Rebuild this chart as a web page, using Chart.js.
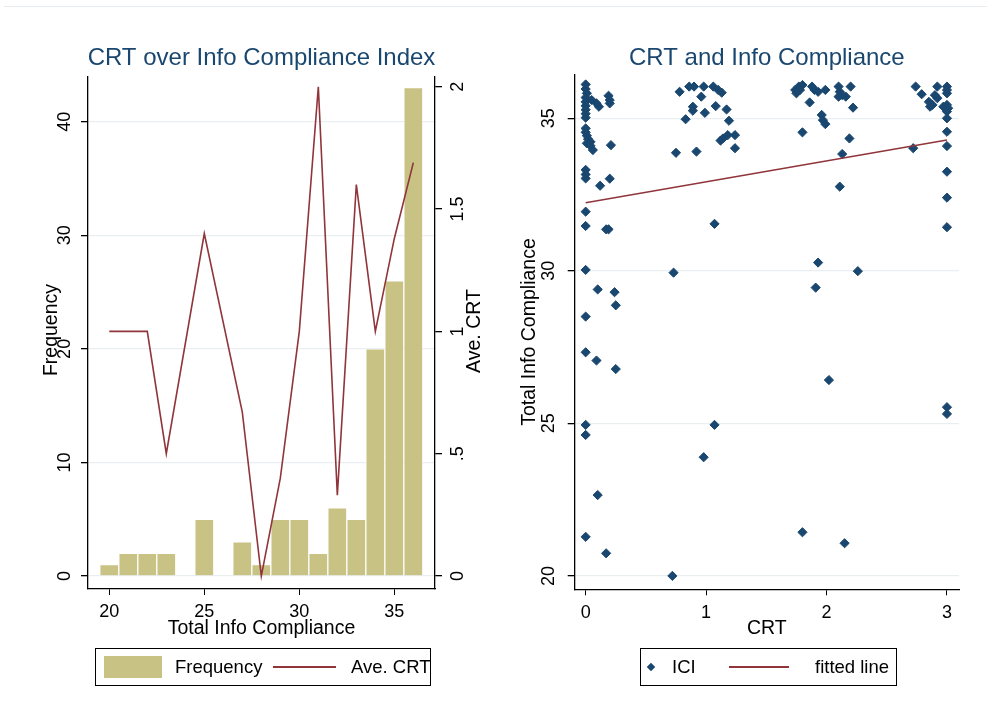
<!DOCTYPE html>
<html>
<head>
<meta charset="utf-8">
<script src="https://cdn.jsdelivr.net/npm/chart.js@4"></script>
<style>
body { margin: 0; background: #fff; font-family: "Liberation Sans", Arial, sans-serif; }
#wrap { position: relative; width: 987px; height: 722px; overflow: hidden; background: #fff; }
#topline { position: absolute; left: 4px; top: 6px; width: 983px; height: 1px; background: #e6ecef; }
canvas { position: absolute; top: 0; }
#leftChart { left: 0; }
#rightChart { left: 493px; }
.legend { position: absolute; top: 648px; height: 36px; border: 1px solid #000; font-size: 18.5px; color: #000; }
.legend .txt { position: absolute; top: 0; line-height: 36px; white-space: nowrap; }
.legend .swatch { position: absolute; top: 7px; width: 58px; height: 22px; background: #c9c285; }
.legend .ln { position: absolute; top: 17px; height: 2px; background: #90353b; }
.legend .dia { position: absolute; top: 15px; width: 6px; height: 6px; background: #1a476f; transform: rotate(45deg); }
</style>
</head>
<body>
<div id="wrap">
  <div id="topline"></div>
  <canvas id="leftChart" width="493" height="722"></canvas>
  <canvas id="rightChart" width="494" height="722"></canvas>

  <div class="legend" style="left:95px; width:334px;">
    <div class="swatch" style="left:8px;"></div>
    <div class="txt" style="left:79px;">Frequency</div>
    <div class="ln" style="left:177px; width:63px;"></div>
    <div class="txt" style="left:255px;">Ave. CRT</div>
  </div>
  <div class="legend" style="left:640px; width:255px;">
    <div class="dia" style="left:7px;"></div>
    <div class="txt" style="left:31px;">ICI</div>
    <div class="ln" style="left:88px; width:60px;"></div>
    <div class="txt" style="left:174px;">fitted line</div>
  </div>
</div>

<script>
// ---- histogram + average CRT per ICI score ----
const iciBins = [20, 21, 22, 23, 24, 25, 26, 27, 28, 29, 30, 31, 32, 33, 34, 35, 36];
const frequency = [1, 2, 2, 2, 0, 5, 0, 3, 1, 5, 5, 2, 6, 5, 20, 26, 43];
const aveCrt = [1, 1, 1, 0.5, null, 1.4, null, 0.67, 0, 0.4, 1, 2, 0.33, 1.6, 1, 1.38, 1.69];
const freqTicks = [0, 10, 20, 30, 40];
const crtTicks = [0, 0.5, 1, 1.5, 2];
const crtTickLabels = ['0', '.5', '1', '1.5', '2'];
const iciAxisTicks = [20, 25, 30, 35];

// ---- scatter: CRT (jittered) vs Total Info Compliance ----
const crtScores = [
    0, 0, 0.01, 0, 0, 0, 0, 0, 0,
    0.05, 0.09, 0.11, 0.19, 0.2, 0.2,
    0, 0, 0.01, 0.02, 0.04, 0.01, 0.04, 0.06, 0.21,
    0, 0, 0, 0.12, 0.2,
    0, 0, 0.17, 0.19,
    0, 0.1, 0.24, 0.25, 0,
    0, 0.09, 0.25,
    0, 0, 0.1, 0, 0.17,
    0.78, 0.86, 0.9, 0.98, 1.06, 1.1, 1.13, 0.96, 0.89, 0.89, 0.99, 1.08, 1.17, 0.83, 1.19,
    1.12, 1.14, 1.18, 1.24, 1.24, 0.75, 0.92, 0.73, 1.07, 1.07, 0.98, 0.72,
    1.74, 1.77, 1.8, 1.78, 1.75, 1.88, 1.9, 1.93, 1.99, 1.86, 2.1, 2.11, 2.13, 2.1, 2.2,
    2.16, 2.22, 1.96, 1.97, 1.99, 1.8, 2.19, 2.13, 2.11, 1.93, 1.91, 2.26, 2.02, 1.8, 2.15,
    2.74, 2.79, 2.85, 2.88, 2.86, 2.92, 2.9, 2.92, 3.0, 3.0, 3.0, 2.97, 3.0, 3.01, 3.0,
    3.0, 3.0, 3.0, 2.72, 3.0, 3.0, 3.0, 3.0, 3.0
];
const iciScores = [
    36.11, 35.96, 35.82, 35.68, 35.54, 35.41, 35.28, 35.15, 35.02,
    35.6, 35.49, 35.38, 35.74, 35.6, 35.49,
    34.67, 34.54, 34.43, 34.32, 34.23, 34.18, 34.1, 33.96, 34.12,
    33.31, 33.16, 33.03, 32.79, 33.02,
    31.94, 31.47, 31.36, 31.36,
    30.03, 29.39, 29.3, 28.87, 28.5,
    27.33, 27.06, 26.78,
    24.95, 24.62, 22.65, 21.28, 20.74,
    35.87, 36.04, 36.04, 36.04, 36.04, 35.93, 35.84, 35.71, 35.38, 35.25, 35.18, 35.4, 35.29, 34.97, 34.92,
    34.27, 34.34, 34.45, 34.45, 34.02, 33.87, 33.91, 29.94, 31.54, 24.95, 23.89, 20.0,
    35.93, 36.04, 36.09, 35.93, 35.82, 36.04, 35.93, 35.87, 35.93, 35.52, 36.04, 35.87, 35.76, 35.71, 36.04,
    35.71, 35.35, 35.11, 34.94, 34.81, 34.54, 34.34, 33.83, 32.76, 30.27, 29.45, 29.99, 26.42, 21.43, 21.07,
    36.04, 35.79, 35.54, 35.44, 35.38, 35.66, 35.76, 36.04, 36.04, 35.93, 35.82, 35.38, 35.44, 35.33, 35.22,
    35.0, 34.56, 34.09, 34.02, 33.25, 32.4, 31.43, 25.53, 25.31
];
const fitCrt = [0, 3];
const fitIci = [32.23, 34.29];
const crtAxisTicks = [0, 1, 2, 3];
const iciTicks = [20, 25, 30, 35];

const NAVY = '#1a476f';
const MAROON = '#90353b';
const SAND = '#c9c285';
const GRID = '#e9eff1';
const FONT = '"Liberation Sans", Arial, sans-serif';

function fixedTicks(values) {
    return scale => { scale.ticks = values.map(v => ({ value: v })); };
}

function yAxis(pos, min, max, values, gridOn) {
    return {
        type: 'linear', position: pos, min: min, max: max,
        afterBuildTicks: fixedTicks(values),
        afterFit: s => { s.width = 40; },
        ticks: { display: false },
        grid: { drawOnChartArea: gridOn, color: GRID, lineWidth: 1.3, tickColor: '#000', tickLength: 7 },
        border: { display: true, color: '#000', width: 1.3 }
    };
}

function xAxis(min, max, values) {
    return {
        type: 'linear', position: 'bottom', min: min, max: max, offset: false,
        afterBuildTicks: fixedTicks(values),
        afterFit: s => { s.height = 40; },
        ticks: { display: false },
        grid: { drawOnChartArea: false, offset: false, tickColor: '#000', tickLength: 6 },
        border: { display: true, color: '#000', width: 1.3 }
    };
}

// draws Stata-like texts: title, rotated y tick labels, axis titles
function textPlugin(cfg) {
    return {
        id: 'stataText',
        afterDraw(chart) {
            const ctx = chart.ctx;
            const area = chart.chartArea;
            ctx.save();
            ctx.textAlign = 'center';
            ctx.textBaseline = 'middle';

            ctx.fillStyle = NAVY;
            ctx.font = '24px ' + FONT;
            ctx.fillText(cfg.title, (area.left + area.right) / 2, cfg.titleY);

            ctx.fillStyle = '#000';
            ctx.font = '18px ' + FONT;
            cfg.yLabels.forEach(t => {
                const sc = chart.scales[t.axis];
                t.values.forEach((v, i) => {
                    ctx.save();
                    ctx.translate(t.x, sc.getPixelForValue(v));
                    ctx.rotate(-Math.PI / 2);
                    ctx.fillText(t.labels[i], 0, 0);
                    ctx.restore();
                });
            });
            const xs = chart.scales.x;
            cfg.xLabels.values.forEach((v, i) => {
                ctx.fillText(cfg.xLabels.labels[i], xs.getPixelForValue(v), cfg.xLabels.y);
            });

            ctx.font = '19.5px ' + FONT;
            cfg.axisTitles.forEach(t => {
                ctx.save();
                ctx.translate(t.x === 'mid' ? (area.left + area.right) / 2 : t.x, t.y);
                if (t.rotate) ctx.rotate(-Math.PI / 2);
                ctx.fillText(t.text, 0, 0);
                ctx.restore();
            });
            ctx.restore();
        }
    };
}

Chart.defaults.font.family = FONT;

new Chart(document.getElementById('leftChart'), {
    type: 'bar',
    data: {
        datasets: [
            {
                type: 'line', label: 'Ave. CRT', yAxisID: 'y1',
                data: iciBins.map((v, i) => ({ x: v, y: aveCrt[i] })),
                borderColor: MAROON, borderWidth: 1.6, pointRadius: 0,
                spanGaps: true, tension: 0, order: 1
            },
            {
                type: 'bar', label: 'Frequency', yAxisID: 'y',
                data: iciBins.map((v, i) => ({ x: v, y: frequency[i] })),
                backgroundColor: SAND, borderColor: 'rgba(255,255,255,0.45)', borderWidth: 1,
                barPercentage: 1, categoryPercentage: 1, order: 2
            }
        ]
    },
    options: {
        responsive: false,
        animation: false,
        devicePixelRatio: 1,
        events: [],
        layout: { padding: { left: 48, right: 18, top: 77, bottom: 93 } },
        plugins: { legend: { display: false }, tooltip: { enabled: false } },
        scales: {
            x: xAxis(18.88, 37.14, iciAxisTicks),
            y: yAxis('left', -1.145, 43.94, freqTicks, true),
            y1: yAxis('right', -0.053, 2.04, crtTicks, false)
        }
    },
    plugins: [textPlugin({
        title: 'CRT over Info Compliance Index', titleY: 58,
        yLabels: [
            { axis: 'y', values: freqTicks, labels: freqTicks.map(String), x: 65 },
            { axis: 'y1', values: crtTicks, labels: crtTickLabels, x: 458 }
        ],
        xLabels: { values: iciAxisTicks, labels: iciAxisTicks.map(String), y: 612 },
        axisTitles: [
            { text: 'Frequency', x: 52, y: 330, rotate: true },
            { text: 'Ave. CRT', x: 475, y: 331, rotate: true },
            { text: 'Total Info Compliance', x: 'mid', y: 629 }
        ]
    })]
});

new Chart(document.getElementById('rightChart'), {
    type: 'scatter',
    data: {
        datasets: [
            {
                type: 'line', label: 'fitted line',
                data: fitCrt.map((v, i) => ({ x: v, y: fitIci[i] })),
                borderColor: MAROON, borderWidth: 1.6, pointRadius: 0, showLine: true, order: 1
            },
            {
                label: 'ICI',
                data: crtScores.map((v, i) => ({ x: v, y: iciScores[i] })),
                pointStyle: 'rectRot', pointRadius: 4.6,
                backgroundColor: NAVY, borderColor: NAVY, borderWidth: 1, order: 2
            }
        ]
    },
    options: {
        responsive: false,
        animation: false,
        devicePixelRatio: 1,
        events: [],
        layout: { padding: { left: 41.7, right: 28, top: 75, bottom: 92.7 } },
        plugins: { legend: { display: false }, tooltip: { enabled: false } },
        scales: {
            x: xAxis(-0.091, 3.10, crtAxisTicks),
            y: yAxis('left', 19.56, 36.42, iciTicks, true)
        }
    },
    plugins: [textPlugin({
        title: 'CRT and Info Compliance', titleY: 58,
        yLabels: [{ axis: 'y', values: iciTicks, labels: iciTicks.map(String), x: 56.5 }],
        xLabels: { values: crtAxisTicks, labels: crtAxisTicks.map(String), y: 613 },
        axisTitles: [
            { text: 'Total Info Compliance', x: 37, y: 332, rotate: true },
            { text: 'CRT', x: 'mid', y: 629 }
        ]
    })]
});
</script>
</body>
</html>
